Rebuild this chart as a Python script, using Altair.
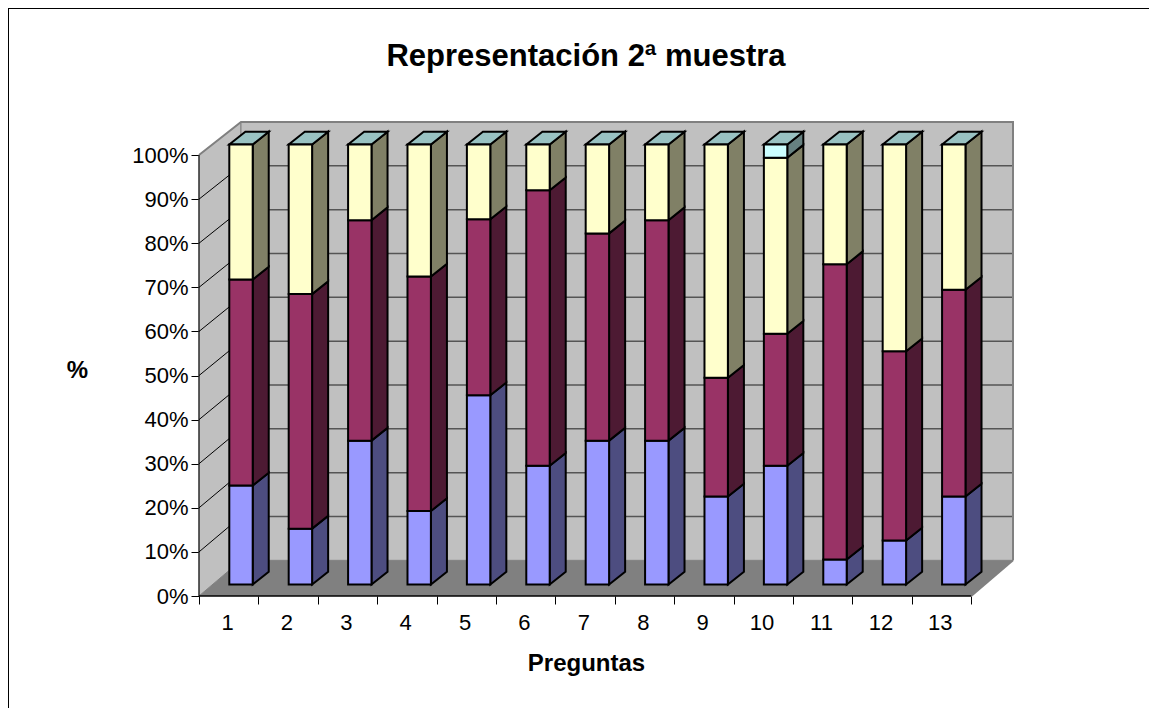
import altair as alt
import pandas as pd

preguntas = list(range(1, 14))
azul     = [22.5, 12.7, 32.7, 16.7, 43, 27, 32.7, 32.7, 20, 27, 5.7, 10, 20]
granate  = [46.8, 53.3, 50.1, 53.3, 40, 62.6, 47.1, 50.1, 27, 30, 67.1, 43, 47]
amarillo = [30.7, 34, 17.2, 30, 17, 10.4, 20.2, 17.2, 53, 40, 27.2, 47, 33]
cian     = [0, 0, 0, 0, 0, 0, 0, 0, 0, 3, 0, 0, 0]

series = [
    (azul, "#9999FF", "#4D4D80"),
    (granate, "#993366", "#4D1A33"),
    (amarillo, "#FFFFCC", "#808066"),
    (cian, "#CCFFFF", "#668080"),
]
TOP_FILL = "#99C2C2"

X_MAX, Y_MAX = 13.704, 107.5
WALL_DX, FLOOR_DY, WALL_K = 0.707, 8.09, 0.994
BAR_X0, BAR_W, BAR_Y0, BAR_K = 0.51, 0.394, 2.6, 0.998
SIDE_DX, SIDE_DY = 0.27, 2.9

fronts, sides, tops = [], [], []
for i in range(len(preguntas)):
    base = 0.0
    left = i + BAR_X0
    right = left + BAR_W
    for s, (vals, front, side) in enumerate(series):
        v = vals[i]
        if v > 0:
            y0 = BAR_Y0 + base * BAR_K
            y1 = BAR_Y0 + (base + v) * BAR_K
            fronts.append(dict(x=left, x2=right, y=y0, y2=y1, fill=front))
            gid = f"{i}-{s}"
            sides.append(dict(id=gid, x=right, y=y0, y2=y1, fill=side))
            sides.append(dict(id=gid, x=right + SIDE_DX, y=y0 + SIDE_DY, y2=y1 + SIDE_DY, fill=side))
        base += v
    ytop = BAR_Y0 + base * BAR_K
    tops.append(dict(id=i, y=ytop, x=left, x2=right))
    tops.append(dict(id=i, y=ytop + SIDE_DY, x=left + SIDE_DX, x2=right + SIDE_DX))

ticks_y = list(range(0, 101, 10))
back = lambda v: FLOOR_DY + v * WALL_K

walls = pd.DataFrame([
    dict(id="left", x=0, y=0, y2=100, fill="#C0C0C0"),
    dict(id="left", x=WALL_DX, y=back(0), y2=back(100), fill="#C0C0C0"),
    dict(id="back", x=WALL_DX, y=back(0), y2=back(100), fill="#C0C0C0"),
    dict(id="back", x=X_MAX, y=back(0), y2=back(100), fill="#C0C0C0"),
])
floor = pd.DataFrame([
    dict(y=0, x=0, x2=13),
    dict(y=back(0), x=WALL_DX, x2=X_MAX),
])
frame = pd.DataFrame(
    [dict(id="a", x=0, y=100), dict(id="a", x=WALL_DX, y=back(100)), dict(id="a", x=X_MAX, y=back(100)),
     dict(id="a", x=X_MAX, y=back(0))]
    + [dict(id="b", x=X_MAX, y=back(0)), dict(id="b", x=13, y=0)]
)
diag = pd.DataFrame(
    [r for v in ticks_y[1:-1] for r in (dict(id=v, x=0, y=v), dict(id=v, x=WALL_DX, y=back(v)))]
)
grid = pd.DataFrame([r for v in ticks_y[1:-1] for r in (dict(id=v, x=WALL_DX, y=back(v)), dict(id=v, x=X_MAX, y=back(v)))])

X = alt.X(
    "x:Q",
    scale=alt.Scale(domain=[0, X_MAX], nice=False, zero=False),
    axis=alt.Axis(
        values=list(range(0, 14)), labelExpr="datum.value < 13 ? datum.value + 1 : ''",
        labelOffset=28, labelFont="Liberation Sans", labelFontSize=22, labelColor="black",
        labelPadding=8, tickSize=8, tickColor="black", domain=False, grid=False, labelFlush=False,
        labelOverlap=False, title="Preguntas", titleFont="Liberation Sans", titleFontSize=24,
        titleFontWeight="bold", titleColor="black", titleX=387, titleY=55,
    ),
)
Y = alt.Y(
    "y:Q",
    scale=alt.Scale(domain=[0, Y_MAX], nice=False, zero=False),
    axis=alt.Axis(
        values=ticks_y, labelExpr="datum.value + '%'", labelFont="Liberation Sans", labelFontSize=22,
        labelColor="black", labelPadding=3, tickSize=8, tickColor="black", domain=False, grid=False,
        title="%", titleAngle=0, titleFont="Liberation Sans", titleFontSize=24, titleFontWeight="bold",
        titleColor="black", titleX=-122, titleY=260,
    ),
)

wall_l = alt.Chart(walls).mark_area(orient="vertical", stroke="#808080", strokeWidth=1).encode(
    x=X, y=Y, y2="y2:Q", fill=alt.Fill("fill:N", scale=None), detail="id:N")
floor_l = alt.Chart(floor).mark_area(orient="horizontal", color="#808080").encode(
    y=Y, x=X, x2="x2:Q")
diag_l = alt.Chart(diag).mark_line(color="black", strokeWidth=1).encode(x=X, y=Y, detail="id:N")
grid_l = alt.Chart(grid).mark_line(color="#555555", strokeWidth=1.5).encode(x=X, y=Y, detail="id:N")
frame_l = alt.Chart(frame).mark_line(color="#808080", strokeWidth=2).encode(
    x=X, y=Y, detail="id:N", order=alt.Order("x:Q"))
yrule = alt.Chart(pd.DataFrame([dict(x=0, y=0, y2=100)])).mark_rule(color="black", strokeWidth=1).encode(
    x=X, y=Y, y2="y2:Q")
xrule = alt.Chart(pd.DataFrame([dict(x=0, x2=13, y=0)])).mark_rule(color="black", strokeWidth=1.5).encode(
    x=X, x2="x2:Q", y=Y)
side_l = alt.Chart(pd.DataFrame(sides)).mark_area(orient="vertical", stroke="black", strokeWidth=2).encode(
    x=X, y=Y, y2="y2:Q", fill=alt.Fill("fill:N", scale=None), detail="id:N")
top_l = alt.Chart(pd.DataFrame(tops)).mark_area(orient="horizontal", stroke="black", strokeWidth=2, color=TOP_FILL).encode(
    y=Y, x=X, x2="x2:Q", detail="id:N")
front_l = alt.Chart(pd.DataFrame(fronts)).mark_rect(stroke="black", strokeWidth=2).encode(
    x=X, x2="x2:Q", y=Y, y2="y2:Q", fill=alt.Fill("fill:N", scale=None))
border = alt.Chart(pd.DataFrame([dict(k=1)])).mark_rect(fill="transparent", stroke="black", strokeWidth=2).encode(
    x=alt.value(-191), x2=alt.value(2000), y=alt.value(-114), y2=alt.value(2000))

chart = alt.layer(
    wall_l, floor_l, diag_l, grid_l, frame_l, yrule, xrule, side_l, top_l, front_l, border
).properties(
    width=814, height=474,
    background="white",
    padding={"left": 191, "top": 114, "right": 136, "bottom": 112},
    autosize=alt.AutoSizeParams(type="none"),
    title=alt.TitleParams(
        "Representación 2ª muestra", font="Liberation Sans", fontSize=31, fontWeight="bold",
        color="black", anchor="middle", frame="group", dx=-20, dy=66, offset=0,
    ),
).configure_view(stroke=None)

chart.save("out.html", embed_options={"renderer": "svg", "actions": False})
